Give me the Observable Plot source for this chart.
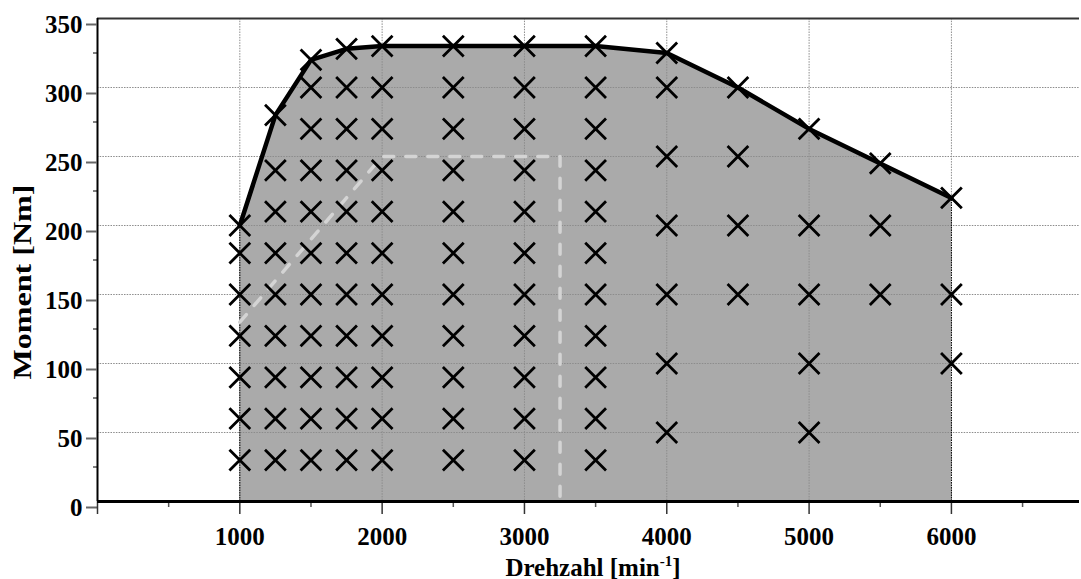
<!DOCTYPE html>
<html>
<head>
<meta charset="utf-8">
<script src="https://cdn.jsdelivr.net/npm/d3@7"></script>
<script src="https://cdn.jsdelivr.net/npm/@observablehq/plot@0.6"></script>
<style>
  html, body { margin: 0; padding: 0; background: #fff; }
  #chart svg { display: block; }
</style>
</head>
<body>
<div id="chart"></div>
<script>
// Full-load torque curve
const curveSpeed  = [1000, 1250, 1500, 1750, 2000, 2500, 3000, 3500, 4000, 4500, 5000, 5500, 6000];
const curveTorque = [200, 280, 320, 328, 330, 330, 330, 330, 325, 300, 270, 245, 220];

// Measurement points (x markers): speed and torques measured at that speed
const pointSpeeds = [1000, 1250, 1500, 1750, 2000, 2500, 3000, 3500, 4000, 4500, 5000, 5500, 6000];
const pointTorques = [
  [30, 60, 90, 120, 150, 180, 200],
  [30, 60, 90, 120, 150, 180, 210, 240, 280],
  [30, 60, 90, 120, 150, 180, 210, 240, 270, 300, 320],
  [30, 60, 90, 120, 150, 180, 210, 240, 270, 300, 328],
  [30, 60, 90, 120, 150, 180, 210, 240, 270, 300, 330],
  [30, 60, 90, 120, 150, 180, 210, 240, 270, 300, 330],
  [30, 60, 90, 120, 150, 180, 210, 240, 270, 300, 330],
  [30, 60, 90, 120, 150, 180, 210, 240, 270, 300, 330],
  [50, 100, 150, 200, 250, 300, 325],
  [150, 200, 250, 300],
  [50, 100, 150, 200, 270],
  [150, 200, 245],
  [100, 150, 220]
];

// Light dashed boundary
const dashSpeed  = [1000, 2000, 3250, 3250];
const dashTorque = [130, 250, 250, 0];

// Ticks
const xMajorTicks = [0, 1000, 2000, 3000, 4000, 5000, 6000];
const xMinorTicks = [500, 1500, 2500, 3500, 4500, 5500, 6500];
const xGridTicks  = [1000, 2000, 3000, 4000, 5000, 6000];
const yMajorTicks = [0, 50, 100, 150, 200, 250, 300, 350];
const yMinorTicks = [25, 75, 125, 175, 225, 275, 325];
const yGridTicks  = [50, 100, 150, 200, 250, 300];

const xLabel = "Drehzahl [min";
const xLabelSup = "-1";
const yLabel = "Moment [Nm]";

const curve = curveSpeed.map((s, i) => ({s, t: curveTorque[i]}));
const points = pointSpeeds.flatMap((s, i) => pointTorques[i].map(t => ({s, t})));
const dash = dashSpeed.map((s, i) => ({s, t: dashTorque[i]}));
const edges = [curve[0], curve[curve.length - 1]];

const font = "'Liberation Serif', 'Times New Roman', serif";

const plot = Plot.plot({
  width: 1081,
  height: 579,
  marginLeft: 97,
  marginRight: 2,
  marginTop: 18,
  marginBottom: 78,
  style: {fontFamily: font, background: "#fff", overflow: "visible"},
  x: {domain: [0, 6900]},
  y: {domain: [0, 350]},
  marks: [
    Plot.areaY(curve, {x: "s", y: "t", fill: "#aaaaaa"}),
    Plot.gridX(xGridTicks, {stroke: "#8c8c8c", strokeOpacity: 1, strokeWidth: 1, strokeDasharray: "1.5,1.2"}),
    Plot.gridY(yGridTicks, {stroke: "#8c8c8c", strokeOpacity: 1, strokeWidth: 1, strokeDasharray: "1.5,1.2"}),
    Plot.ruleX(edges, {x: "s", y1: 0, y2: "t", stroke: "#000", strokeWidth: 1, strokeDasharray: "1.5,1"}),
    Plot.line(dash, {x: "s", y: "t", stroke: "#d4d4d4", strokeWidth: 3.5, strokeDasharray: "10,12", strokeLinecap: "round", strokeLinejoin: "round"}),
    Plot.line(curve, {x: "s", y: "t", stroke: "#000", strokeWidth: 4.5, strokeLinejoin: "round"}),
    Plot.dot(points, {x: "s", y: "t", symbol: "times", r: 9.5, stroke: "#000", strokeWidth: 2.8, fill: "none"}),
    // frame
    Plot.ruleY([350], {stroke: "#333", strokeWidth: 2}),
    Plot.ruleX([0], {y1: 0, y2: 350, stroke: "#000", strokeWidth: 2}),
    // axes
    Plot.axisY({ticks: yMinorTicks, tickSize: 4, text: null, stroke: "#000", strokeWidth: 1, label: null}),
    Plot.axisY({ticks: yMajorTicks, tickSize: 11, tickPadding: 4, stroke: "#666", strokeWidth: 2,
      fontSize: 25, fontWeight: "bold", fontFamily: font, fill: "#000", dy: 6,
      tickFormat: d => String(d), label: null}),
    Plot.axisX({ticks: xMinorTicks, tickSize: 6, text: null, stroke: "#555", strokeWidth: 1.5, label: null}),
    Plot.axisX({ticks: xMajorTicks, tickSize: 13, tickPadding: 13, stroke: "#333", strokeWidth: 1.5,
      fontSize: 25, fontWeight: "bold", fontFamily: font, fill: "#000",
      tickFormat: d => d === 0 ? "" : String(d), label: null}),
    Plot.ruleY([0], {stroke: "#000", strokeWidth: 3})
  ]
});

const svg = d3.select(plot);
// x-axis title with superscript
const xt = svg.append("text")
  .attr("x", 593).attr("y", 576)
  .attr("text-anchor", "middle")
  .attr("font-family", font).attr("font-weight", "bold").attr("font-size", 25)
  .attr("fill", "#000");
xt.append("tspan").text(xLabel);
xt.append("tspan").attr("dy", -10).attr("font-size", 15).text(xLabelSup);
xt.append("tspan").attr("dy", 10).text("]");

// y-axis title
svg.append("text")
  .attr("transform", "translate(31,282) rotate(-90)")
  .attr("text-anchor", "middle")
  .attr("font-family", font).attr("font-weight", "bold").attr("font-size", 26)
  .attr("textLength", 195).attr("lengthAdjust", "spacingAndGlyphs")
  .attr("fill", "#000")
  .text(yLabel);

document.getElementById("chart").appendChild(plot);
</script>
</body>
</html>
